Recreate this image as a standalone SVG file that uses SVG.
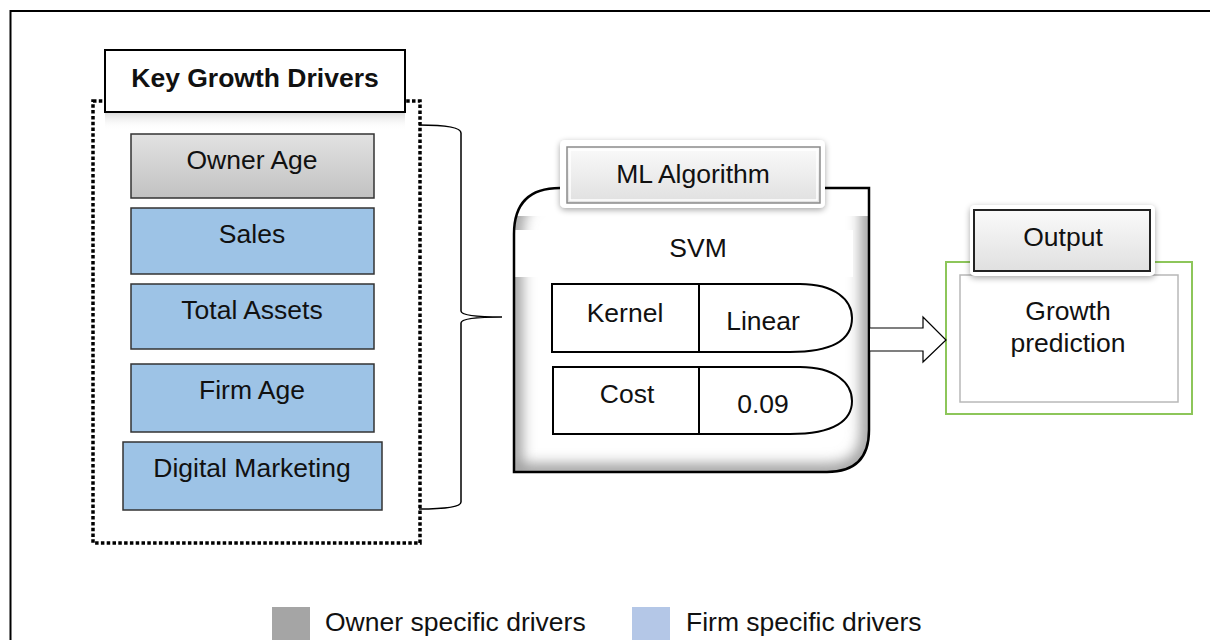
<svg xmlns="http://www.w3.org/2000/svg" width="1210" height="640" viewBox="0 0 1210 640">
<style>
text{font-family:"Liberation Sans",Arial,sans-serif;font-size:26.5px;fill:#111;text-anchor:middle}
.drv{stroke:#333;stroke-width:1.5}
.blue{fill:#9dc3e6}
.ln{fill:none;stroke:#000;stroke-width:2}
</style>
<defs>
<linearGradient id="gGray" x1="0" y1="0" x2="0" y2="1"><stop offset="0" stop-color="#e2e2e2"/><stop offset="1" stop-color="#c2c2c2"/></linearGradient>
<linearGradient id="gBtn" x1="0" y1="0" x2="0" y2="1"><stop offset="0" stop-color="#fafafa"/><stop offset="1" stop-color="#e0e0e0"/></linearGradient>
<linearGradient id="gRefl" x1="0" y1="0" x2="0" y2="1"><stop offset="0" stop-color="#d8d8d8"/><stop offset="1" stop-color="#ffffff" stop-opacity="0"/></linearGradient>
<filter id="sh" x="-20%" y="-30%" width="140%" height="160%"><feGaussianBlur in="SourceAlpha" stdDeviation="3"/><feOffset dy="2"/><feComponentTransfer><feFuncA type="linear" slope="0.35"/></feComponentTransfer><feMerge><feMergeNode/><feMergeNode in="SourceGraphic"/></feMerge></filter>
<filter id="blur8"><feGaussianBlur stdDeviation="7"/></filter>
<clipPath id="mlClip"><path d="M514,472 L514,234 Q514,188 560,188 L869,188 L869,430 Q869,472 827,472 Z"/></clipPath>
</defs>

<rect x="10.5" y="11" width="1260" height="700" class="ln"/>

<g id="key-growth-drivers">
<rect x="93" y="101" width="327" height="442" fill="none" stroke="#000" stroke-width="3.5" stroke-dasharray="3.5 2.3"/>
<rect x="105" y="112" width="300" height="18" fill="url(#gRefl)"/>
<rect x="105" y="50" width="300" height="62" fill="#fff" stroke="#000" stroke-width="2"/>
<text x="255" y="87" style="font-weight:bold">Key Growth Drivers</text>
</g>
<g id="owner-age">
<rect x="131" y="134" width="243" height="64" fill="url(#gGray)" class="drv"/>
<text x="252" y="169">Owner Age</text>
</g>
<g id="sales">
<rect x="131" y="208" width="243" height="66" class="drv blue"/>
<text x="252" y="243">Sales</text>
</g>
<g id="total-assets">
<rect x="131" y="284" width="243" height="65" class="drv blue"/>
<text x="252" y="319">Total Assets</text>
</g>
<g id="firm-age">
<rect x="131" y="364" width="243" height="68" class="drv blue"/>
<text x="252" y="399">Firm Age</text>
</g>
<g id="digital-marketing">
<rect x="123" y="442" width="259" height="68" class="drv blue"/>
<text x="252" y="477">Digital Marketing</text>
</g>

<g id="ml-algorithm">
<path d="M514,472 L514,234 Q514,188 560,188 L869,188 L869,430 Q869,472 827,472 Z" fill="#fff"/>
<g clip-path="url(#mlClip)">
<path d="M514,472 L514,234 Q514,188 560,188 L869,188 L869,430 Q869,472 827,472 Z" fill="none" stroke="#9a9a9a" stroke-width="16" filter="url(#blur8)"/>
<rect x="505" y="188" width="370" height="28" fill="#fff"/>
<rect x="505" y="230" width="348" height="47" fill="#fff"/>
</g>
<path d="M514,472 L514,234 Q514,188 560,188 L869,188 L869,430 Q869,472 827,472 Z" fill="none" stroke="#000" stroke-width="2.5"/>
<rect x="560" y="140" width="265" height="68" rx="5" fill="#fff" filter="url(#sh)"/>
<rect x="567" y="147" width="253" height="56" fill="url(#gBtn)" stroke="#8a8a8a" stroke-width="1.5"/>
<rect x="570" y="150" width="247" height="50" fill="none" stroke="#fff" stroke-width="1.5"/>
<text x="693" y="183">ML Algorithm</text>
<text x="698" y="257">SVM</text>
</g>
<g id="kernel">
<path d="M552,284 L800,284 C835,284 852,300 852,318 C852,338 835,352 790,352 L552,352 Z" fill="#fff" stroke="#000" stroke-width="2"/>
<line x1="699" y1="284" x2="699" y2="352" stroke="#000" stroke-width="2"/>
<text x="625" y="322">Kernel</text>
<text x="763" y="330">Linear</text>
</g>
<g id="cost">
<path d="M553,367 L800,367 C835,367 852,383 852,401 C852,420 835,434 790,434 L553,434 Z" fill="#fff" stroke="#000" stroke-width="2"/>
<line x1="699" y1="367" x2="699" y2="434" stroke="#000" stroke-width="2"/>
<text x="627" y="403">Cost</text>
<text x="763" y="413">0.09</text>
</g>

<g id="output">
<rect x="946" y="262" width="246" height="152" fill="#fff" stroke="#8dc65a" stroke-width="2"/>
<rect x="960" y="275" width="218" height="127" fill="#fff" stroke="#b8b8b8" stroke-width="1.5"/>
<rect x="970" y="205" width="185" height="71" rx="5" fill="#fff" filter="url(#sh)"/>
<rect x="974" y="210" width="176" height="61" fill="url(#gBtn)" stroke="#222" stroke-width="2"/>
<text x="1063" y="246">Output</text>
<text x="1068" y="320">Growth</text>
<text x="1068" y="352">prediction</text>
</g>

<g id="connectors">
<path d="M419,125 Q461,125 461,133 L461,311 Q461,317 502,317 Q461,317 461,323 L461,502 Q461,509 419,509" fill="none" stroke="#000" stroke-width="1.5"/>
<path d="M870,328 L923,328 L923,317 L946,340 L923,362 L923,351 L870,351" fill="#fff" stroke="#000" stroke-width="1.2"/>
</g>

<g id="legend">
<rect x="272" y="607" width="38" height="40" fill="#a5a5a5"/>
<text x="325" y="631" style="text-anchor:start">Owner specific drivers</text>
<rect x="632" y="607" width="38" height="40" fill="#b4c7e7"/>
<text x="686" y="631" style="text-anchor:start">Firm specific drivers</text>
</g>
</svg>
